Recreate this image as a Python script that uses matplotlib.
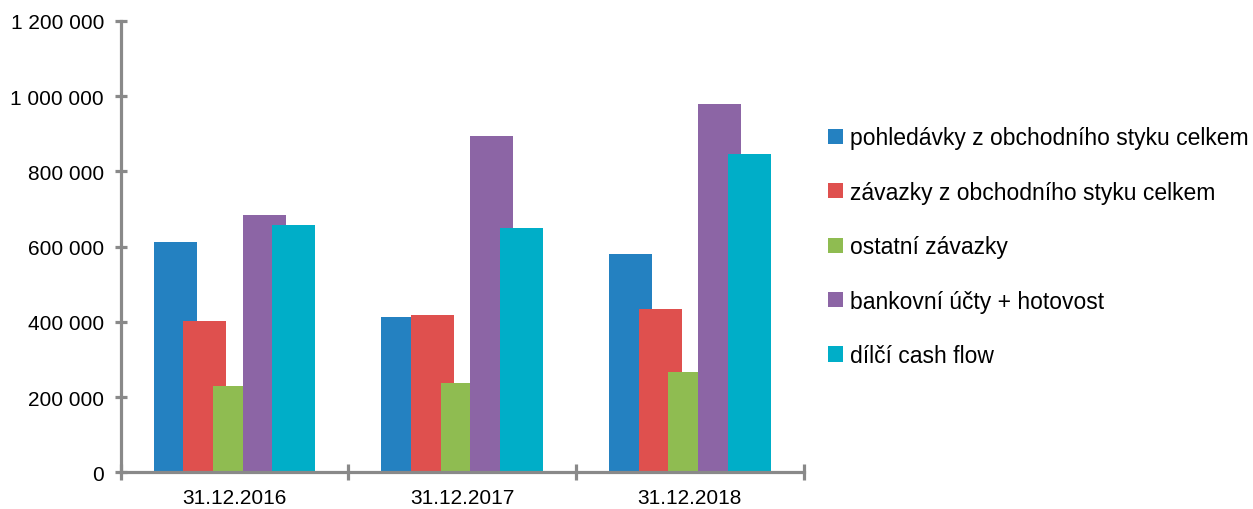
import matplotlib
matplotlib.use("Agg")
import matplotlib.pyplot as plt
import numpy as np
from matplotlib.patches import Patch
from matplotlib.ticker import FuncFormatter

plt.rcParams["font.family"] = ["Liberation Sans", "DejaVu Sans"]

# data
dates = ["31.12.2016", "31.12.2017", "31.12.2018"]
series_names = [
    "pohledávky z obchodního styku celkem",
    "závazky z obchodního styku celkem",
    "ostatní závazky",
    "bankovní účty + hotovost",
    "dílčí cash flow",
]
pohledavky = [611000, 414000, 581000]
zavazky = [403000, 419000, 434000]
ostatni = [230000, 237000, 267000]
bankovni = [685000, 894000, 979000]
cash_flow = [658000, 649000, 847000]
colors = ["#2481C1", "#DF504E", "#8FBC51", "#8C65A5", "#00AEC8"]

values = [pohledavky, zavazky, ostatni, bankovni, cash_flow]

fig = plt.figure(figsize=(12.53, 5.10), dpi=100)
ax = fig.add_axes([0.0963, 0.0720, 0.5450, 0.8849])

x = np.arange(len(dates))
width = 0.189
step = 0.1305
for i, (vals, col) in enumerate(zip(values, colors)):
    ax.bar(x + (i - 2) * step, vals, width=width, color=col, linewidth=0, zorder=2 + i)

axis_col = "#898989"
ax.set_xlim(-0.5, len(dates) - 0.5)
ax.set_ylim(0, 1200000)
ax.set_yticks(np.arange(0, 1200001, 200000))
ax.yaxis.set_major_formatter(FuncFormatter(lambda v, p: f"{int(v):,}".replace(",", " ")))
ax.set_xticks(np.arange(-0.5, len(dates), 1.0))
ax.set_xticklabels([])
ax.set_xticks(x, minor=True)
ax.set_xticklabels(dates, minor=True)

for s in ["top", "right"]:
    ax.spines[s].set_visible(False)
for s in ["left", "bottom"]:
    ax.spines[s].set_color(axis_col)
    ax.spines[s].set_linewidth(2.3)
    ax.spines[s].set_zorder(10)

ax.tick_params(axis="y", which="major", direction="inout", length=9, width=2.3,
               color=axis_col, labelsize=15, pad=7.5, labelcolor="black")
ax.tick_params(axis="x", which="major", direction="inout", length=11, width=2.3,
               color=axis_col)
ax.tick_params(axis="x", which="minor", length=0, labelsize=15, pad=11.5, labelcolor="black")

handles = [Patch(facecolor=c, edgecolor="none") for c in colors]
fig.legend(handles, series_names, loc="upper left", bbox_to_anchor=(0.661, 0.750),
           frameon=False, fontsize=16.5, handlelength=0.65, handleheight=0.65,
           handletextpad=0.3, labelspacing=1.37, borderpad=0, borderaxespad=0)

fig.savefig("out.png", dpi=100)
